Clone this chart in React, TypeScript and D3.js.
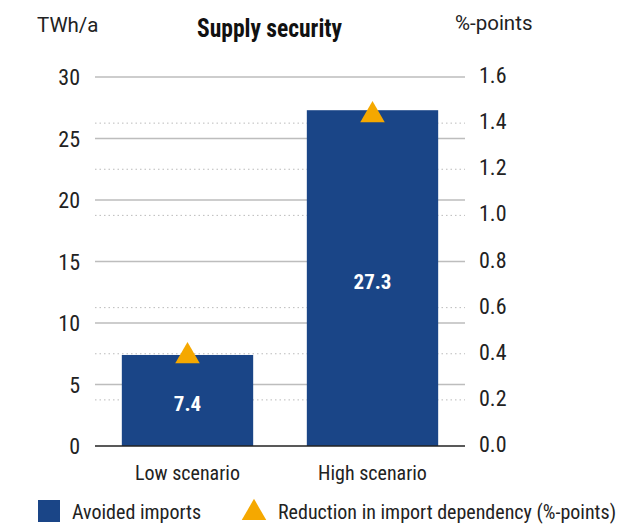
import React from 'react';
import * as d3 from 'd3';

const categories = ['Low scenario', 'High scenario'];
const avoidedImports = [7.4, 27.3];
const reductionPoints = [0.39, 1.435];
const leftTicks = [0, 5, 10, 15, 20, 25, 30];
const rightTicks = [0, 0.2, 0.4, 0.6, 0.8, 1.0, 1.2, 1.4, 1.6];

const W = 630;
const H = 526;
const font = '"Liberation Sans Narrow", "Roboto Condensed", "Liberation Sans", sans-serif';
const unitFont = 'Roboto, "Liberation Sans", sans-serif';
const blue = '#1a4587';
const orange = '#f5a800';

const App = () => {
    const x = d3.scaleBand<string>()
        .domain(categories)
        .range([95, 465])
        .paddingInner(0.29)
        .paddingOuter(0.145);
    const yL = d3.scaleLinear().domain([0, 30]).range([446, 77]);
    const yR = d3.scaleLinear().domain([0, 1.6]).range([446, 77]);
    const tri = d3.symbol().type(d3.symbolTriangle).size(260)();

    // dotted lines at right ticks that don't coincide with a solid line
    const dotted = rightTicks.filter(t => !leftTicks.some(l => Math.abs(yL(l) - yR(t)) < 2));

    return (
        <svg width={W} height={H} style={{ position: 'absolute', left: 0, top: 0 }} fontFamily={font}>
            <text x={37} y={32} fontSize={20.5} fontFamily={unitFont} fill="#222">TWh/a</text>
            <text x={197} y={37} fontSize={26} fontWeight="bold" textLength={145}
                lengthAdjust="spacingAndGlyphs" fill="#111">Supply security</text>
            <text x={455} y={30} fontSize={20.5} fontFamily={unitFont} fill="#222">%-points</text>

            {dotted.map(t => (
                <line key={'d' + t} x1={95} x2={465} y1={yR(t)} y2={yR(t)}
                    stroke="#bbb" strokeWidth={1} strokeDasharray="1.5,3" />
            ))}
            {leftTicks.filter(t => t > 0).map(t => (
                <line key={'g' + t} x1={95} x2={465} y1={yL(t)} y2={yL(t)} stroke="#bdbdbd" strokeWidth={1.3} />
            ))}

            {categories.map((c, i) => (
                <rect key={c} x={x(c)} y={yL(avoidedImports[i])} width={x.bandwidth()}
                    height={yL(0) - yL(avoidedImports[i])} fill={blue} />
            ))}
            {categories.map((c, i) => (
                <text key={'v' + c} x={x(c)! + x.bandwidth() / 2}
                    y={(yL(avoidedImports[i]) + yL(0)) / 2 + 11} textAnchor="middle"
                    fontSize={21} fontWeight="bold" fill="#fff">{avoidedImports[i].toFixed(1)}</text>
            ))}

            <line x1={95} x2={465} y1={yL(0)} y2={yL(0)} stroke="#222" strokeWidth={1.5} />

            {categories.map((c, i) => (
                <path key={'t' + c} d={tri!}
                    transform={`translate(${x(c)! + x.bandwidth() / 2},${yR(reductionPoints[i])})`}
                    fill={orange} />
            ))}

            {leftTicks.map(t => (
                <text key={'l' + t} x={80} y={yL(t) + 8} textAnchor="end" fontSize={22} fill="#222">{t}</text>
            ))}
            {rightTicks.map(t => (
                <text key={'r' + t} x={479} y={yR(t) + 6} fontSize={22} fill="#222">{t.toFixed(1)}</text>
            ))}

            {categories.map(c => (
                <text key={'c' + c} x={x(c)! + x.bandwidth() / 2} y={480} textAnchor="middle"
                    fontSize={20} fill="#222">{c}</text>
            ))}

            <rect x={38} y={500} width={22} height={22} fill={blue} />
            <text x={72} y={519} fontSize={20} fill="#222">Avoided imports</text>
            <path d={tri!} transform="translate(254,513)" fill={orange} />
            <text x={278} y={519} fontSize={20} fill="#222">Reduction in import dependency (%-points)</text>
        </svg>
    );
};

export default App;
